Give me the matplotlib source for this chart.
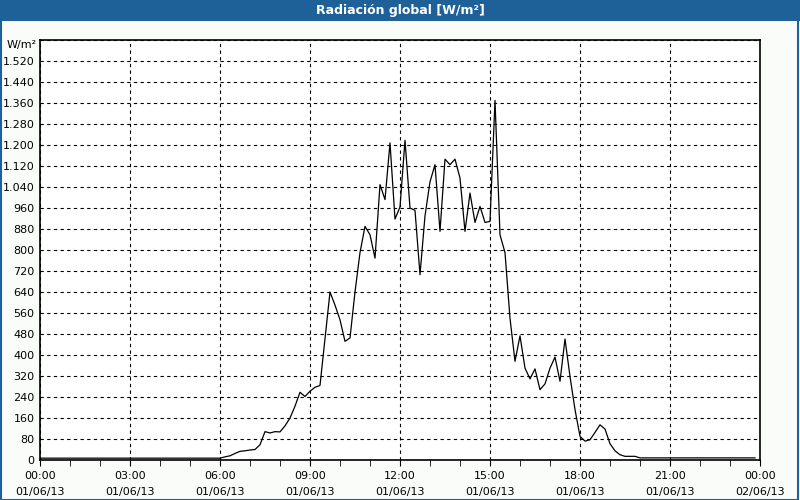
import numpy as np
import matplotlib
matplotlib.use('Agg')
import matplotlib.pyplot as plt
from matplotlib.patches import Rectangle
from matplotlib.ticker import MultipleLocator, FuncFormatter

# 10-minute readings, 01/06/13 00:00 .. 23:50
night = [7] * 37
day = [12, 16, 25, 33, 35, 38, 40, 58, 108, 103, 108, 107, 130, 160, 205, 258,
       242, 262, 277, 284, 462, 640, 590, 534, 452, 465, 640, 790, 890, 858,
       769, 1049, 992, 1208, 918, 964, 1218, 960, 951, 706, 930, 1060, 1125,
       871, 1146, 1125, 1146, 1074, 871, 1017, 905, 966, 905, 909, 1370, 858,
       790, 540, 376, 473, 350, 309, 347, 268, 290, 350, 392, 300, 461, 318,
       192, 90, 72, 77, 105, 134, 118, 62, 35, 20, 14, 14, 14]
evening = [8] * 24
radiation = night + day + evening
minutes = np.arange(len(radiation)) * 10

xtick_labels = ['00:00\n01/06/13', '03:00\n01/06/13', '06:00\n01/06/13',
                '09:00\n01/06/13', '12:00\n01/06/13', '15:00\n01/06/13',
                '18:00\n01/06/13', '21:00\n01/06/13', '00:00\n02/06/13']
title = 'Radiación global [W/m²]'
unit = 'W/m²'

bg = '#fafcfa'
blue = '#1d6198'

fig = plt.figure(figsize=(8, 5), dpi=100, facecolor=bg)

# title bar and frame
fig.patches.append(Rectangle((0, 0.958), 1, 0.042, transform=fig.transFigure,
                             facecolor=blue, edgecolor='none'))
fig.patches.append(Rectangle((0.001, 0.001), 0.997, 0.998, transform=fig.transFigure,
                             facecolor='none', edgecolor=blue, linewidth=1.5))
fig.text(0.5, 0.979, title, color='white', fontsize=9, fontweight='bold',
         ha='center', va='center')

ax = fig.add_axes([0.05, 0.08, 0.90, 0.84])
ax.set_facecolor('white')
ax.plot(minutes, radiation, color='black', linewidth=0.9)

ax.set_xlim(0, 1440)
ax.set_ylim(0, 1600)

ax.set_xticks(np.arange(0, 1441, 180))
ax.set_xticklabels(xtick_labels)
ax.xaxis.set_minor_locator(MultipleLocator(60))
ax.set_yticks(np.arange(0, 1601, 80))

def ylab(v, pos):
    if v >= 1600:
        return ''
    return f'{int(v):,}'.replace(',', '.')

ax.yaxis.set_major_formatter(FuncFormatter(ylab))
fig.text(0.046, 1 - 45 / 500, unit, fontsize=8, ha='right', va='center')

ax.grid(True, which='major', color='black', linestyle=(0, (3, 3)), linewidth=0.8)
ax.tick_params(axis='y', length=0, pad=4, labelsize=8)
ax.tick_params(axis='x', which='major', length=4, direction='out', labelsize=8, pad=4)
ax.tick_params(axis='x', which='minor', length=4, direction='out')
ax.tick_params(axis='x', which='both', top=False)
for s in ax.spines.values():
    s.set_linewidth(1.2)

for lbl in ax.get_xticklabels():
    lbl.set_linespacing(1.7)

fig.savefig('out.png', dpi=100, facecolor=bg)
